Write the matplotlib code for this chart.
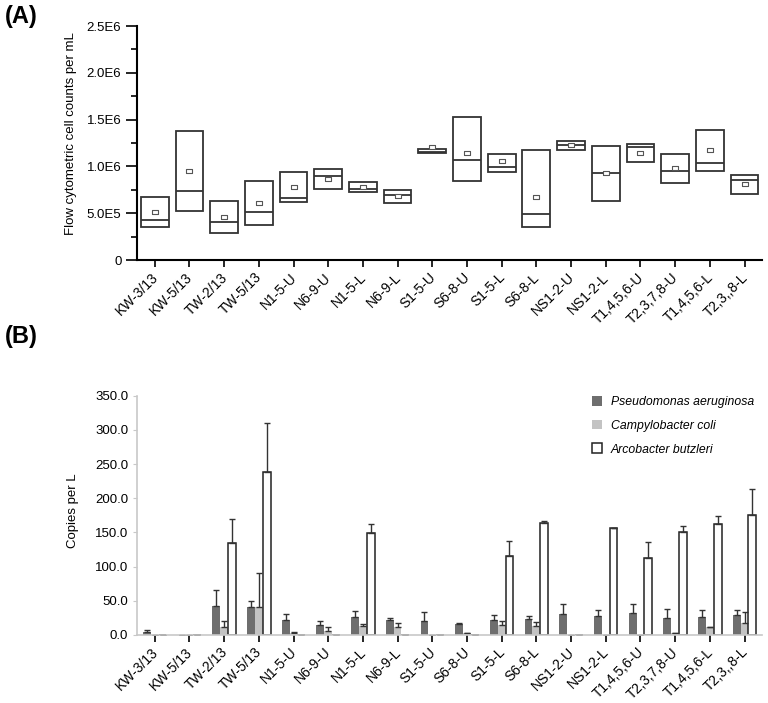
import numpy as np
import matplotlib
matplotlib.use("Agg")
from matplotlib import pyplot as plt
from matplotlib import transforms
from matplotlib.ticker import FixedLocator, MultipleLocator

plt.rcParams["font.family"] = ["Liberation Sans", "DejaVu Sans"]

# sample sites (same order in both panels)
sites = ["KW-3/13", "KW-5/13", "TW-2/13", "TW-5/13", "N1-5-U", "N6-9-U",
         "N1-5-L", "N6-9-L", "S1-5-U", "S6-8-U", "S1-5-L", "S6-8-L",
         "NS1-2-U", "NS1-2-L", "T1,4,5,6-U", "T2,3,7,8-U", "T1,4,5,6-L", "T2,3,,8-L"]

# (A) flow cytometric counts, in units of 1E6 cells per mL
box_low = [0.357, 0.529, 0.286, 0.371, 0.618, 0.764, 0.725, 0.611, 1.14,
           0.843, 0.943, 0.35, 1.179, 0.629, 1.043, 0.825, 0.95, 0.704]
box_high = [0.671, 1.375, 0.629, 0.843, 0.936, 0.971, 0.836, 0.754, 1.19,
            1.529, 1.129, 1.179, 1.271, 1.221, 1.243, 1.132, 1.389, 0.914]
box_median = [0.432, 0.736, 0.404, 0.514, 0.668, 0.896, 0.764, 0.693, 1.15,
              1.064, 0.993, 0.493, 1.229, 0.925, 1.211, 0.954, 1.039, 0.857]
box_mean = [0.514, 0.954, 0.457, 0.611, 0.786, 0.868, 0.786, 0.682, 1.21,
            1.146, 1.054, 0.675, 1.225, 0.925, 1.146, 0.979, 1.171, 0.811]
a_ticks = [0, 0.5e6, 1.0e6, 1.5e6, 2.0e6, 2.5e6]
a_ticklabels = ["0", "5.0E5", "1.0E6", "1.5E6", "2.0E6", "2.5E6"]

# (B) qPCR copies per L
pseudo = [4, 0, 42, 41, 21.5, 15, 25.5, 21, 20.5, 15.5, 21.5, 22.5, 30, 27.5, 32, 25, 26.5, 28.5]
pseudo_err = [3.5, 0, 23, 9, 8.5, 4.5, 10, 3.5, 12.5, 2.5, 7, 4.5, 15, 8.5, 12.5, 13.5, 9.5, 7.5]
campy = [0, 0, 12, 40, 2, 6, 13, 11, 0, 2, 14, 13, 0, 0, 0, 2, 11, 18]
campy_err = [0, 0, 8, 50, 2, 5.5, 3, 6, 0, 0, 6, 6, 0, 0, 0, 1, 1, 16]
arco = [0, 0, 134, 239, 0, 0, 149, 0, 0, 0, 116, 164, 0, 156, 112, 150, 162, 175]
arco_err = [0, 0, 36, 71, 0, 0, 13, 0, 0, 0, 21, 2, 0, 0, 23.5, 9, 11.5, 38]

x = np.arange(len(sites))
scale = 1e6

fig = plt.figure(figsize=(7.68, 7.03), dpi=100)
# nudge rotated site labels a little left, as in the original
label_shift = transforms.ScaledTranslation(-4 / 100, 1 / 100, fig.dpi_scale_trans)

# ---------- panel A ----------
axA = fig.add_axes([0.178, 0.630, 0.814, 0.333])
lo = np.array(box_low) * scale
hi = np.array(box_high) * scale
axA.bar(x, hi - lo, bottom=lo, width=0.8, fill=False, edgecolor="#333333", linewidth=1.3)
axA.hlines(np.array(box_median) * scale, x - 0.4, x + 0.4, color="#333333", linewidth=1.3)
mean_marker = [(-1.7, -1), (1.7, -1), (1.7, 1), (-1.7, 1), (-1.7, -1)]
axA.plot(x, np.array(box_mean) * scale, linestyle="none", marker=mean_marker,
         markersize=4, markerfacecolor="white", markeredgecolor="#555555", markeredgewidth=0.8)

axA.set_xlim(-0.52, len(sites) - 0.5)
axA.set_ylim(0, 2.5e6)
axA.yaxis.set_major_locator(FixedLocator(a_ticks))
axA.set_yticklabels(a_ticklabels)
axA.yaxis.set_minor_locator(MultipleLocator(0.25e6))
axA.set_xticks(x)
axA.set_xticklabels(sites, rotation=45, ha="right", rotation_mode="anchor", fontsize=10)
axA.tick_params(axis="y", which="major", length=8, width=1.2, labelsize=9.5, pad=3)
axA.tick_params(axis="y", which="minor", length=4, width=1.2)
axA.tick_params(axis="x", length=5, width=1.2, pad=3)
for side in ["top", "right"]:
    axA.spines[side].set_visible(False)
for side in ["left", "bottom"]:
    axA.spines[side].set_linewidth(1.5)
axA.set_ylabel("Flow cytometric cell counts per mL", fontsize=9.5)
axA.yaxis.set_label_coords(-0.095, 0.54)

# ---------- panel B ----------
axB = fig.add_axes([0.178, 0.097, 0.814, 0.340])
bw = 0.225
err_kw = dict(fmt="none", ecolor="#333333", elinewidth=1.0, capsize=2, capthick=1.0)
axB.bar(x - bw, pseudo, width=bw, color="#6e6e6e", label="Pseudomonas aeruginosa")
axB.errorbar(x - bw, pseudo, yerr=[np.zeros(len(x)), pseudo_err], **err_kw)
axB.bar(x, campy, width=bw, color="#c3c3c3", label="Campylobacter coli")
axB.errorbar(x, campy, yerr=[np.zeros(len(x)), campy_err], **err_kw)
axB.bar(x + bw, arco, width=bw, color="white", edgecolor="#222222", linewidth=1.1,
        label="Arcobacter butzleri")
axB.errorbar(x + bw, arco, yerr=[np.zeros(len(x)), arco_err], **err_kw)

axB.set_xlim(-0.52, len(sites) - 0.5)
axB.set_ylim(0, 350)
axB.yaxis.set_major_locator(MultipleLocator(50))
axB.yaxis.set_major_formatter(plt.FormatStrFormatter("%.1f"))
axB.set_xticks(x)
axB.set_xticklabels(sites, rotation=45, ha="right", rotation_mode="anchor", fontsize=10)
axB.tick_params(axis="y", length=3, width=0.8, color="#c8c8c8", labelsize=9.5, pad=3)
axB.tick_params(axis="x", length=5, width=1.2, color="black", pad=3)
for side in ["top", "right"]:
    axB.spines[side].set_visible(False)
for side in ["left", "bottom"]:
    axB.spines[side].set_color("#c8c8c8")
    axB.spines[side].set_linewidth(1.2)
axB.set_ylabel("Copies per L", fontsize=9.5)
axB.yaxis.set_label_coords(-0.092, 0.52)

for ax in (axA, axB):
    for lab in ax.get_xticklabels():
        lab.set_transform(lab.get_transform() + label_shift)

leg = axB.legend(loc="upper left", bbox_to_anchor=(0.71, 1.045), frameon=False,
                 prop={"style": "italic", "size": 8.8}, handlelength=0.85, handleheight=0.85,
                 labelspacing=0.95, handletextpad=0.7)

fig.text(0.006, 0.976, "(A)", fontsize=17, fontweight="bold", va="center")
fig.text(0.006, 0.521, "(B)", fontsize=17, fontweight="bold", va="center")

fig.savefig("out.png", dpi=100)
